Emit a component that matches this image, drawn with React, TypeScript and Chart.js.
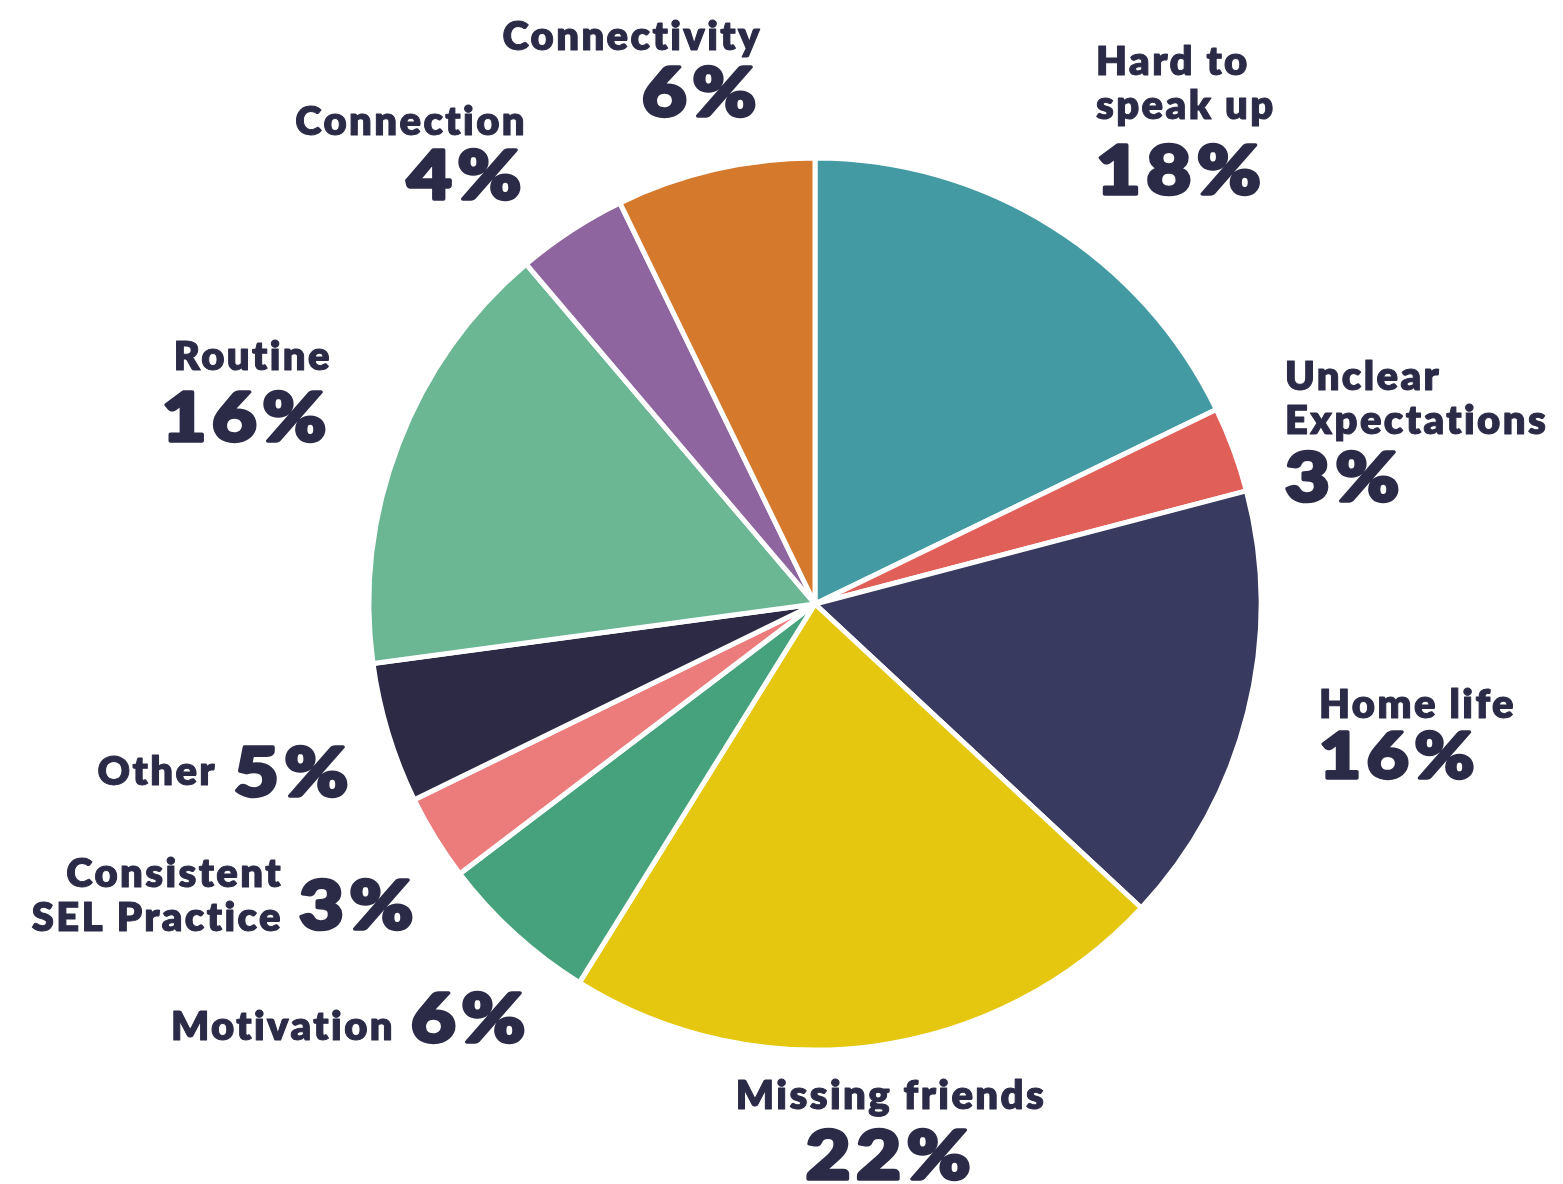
import React, { useEffect, useRef } from "react";
import { Chart, registerables } from "chart.js";

Chart.register(...registerables);

// ---- data ----
const categories = [
  "Hard to speak up",
  "Unclear Expectations",
  "Home life",
  "Missing friends",
  "Motivation",
  "Consistent SEL Practice",
  "Other",
  "Routine",
  "Connection",
  "Connectivity",
];
const values = [17.8, 3.1, 16.0, 21.9, 5.8, 3.1, 5.1, 15.9, 4.0, 7.2];
const percentLabels = ["18%", "3%", "16%", "22%", "6%", "3%", "5%", "16%", "4%", "6%"];
const nameLines = [
  ["Hard to", "speak up"],
  ["Unclear", "Expectations"],
  ["Home life"],
  ["Missing friends"],
  ["Motivation"],
  ["Consistent", "SEL Practice"],
  ["Other"],
  ["Routine"],
  ["Connection"],
  ["Connectivity"],
];
const sliceColors = [
  "#439AA3",
  "#E15F59",
  "#393A5F",
  "#E6C70F",
  "#46A27D",
  "#EC7B7B",
  "#2C2A45",
  "#6BB693",
  "#8E659E",
  "#D5792D",
];

// ---- label layout (style, relative to pie centre) ----
type Layout = {
  mode: "stack" | "inline";
  align: CanvasTextAlign;
  dx: number;
  dy: number;
  pctDx?: number;
  pctDy: number;
  pctScale?: number;
};
const labelLayout: Layout[] = [
  { mode: "stack", align: "left", dx: 281, dy: -529, pctDy: -410 },
  { mode: "stack", align: "left", dx: 470, dy: -214, pctDy: -103 },
  { mode: "stack", align: "left", dx: 504, dy: 114, pctDy: 174, pctScale: 0.94 },
  { mode: "stack", align: "center", dx: 76, dy: 505, pctDy: 575 },
  { mode: "inline", align: "right", dx: -420, dy: 436, pctDx: -404, pctDy: 438 },
  { mode: "inline", align: "right", dx: -532, dy: 283, pctDx: -516, pctDy: 325 },
  { mode: "inline", align: "right", dx: -598, dy: 181, pctDx: -581, pctDy: 192 },
  { mode: "stack", align: "right", dx: -483, dy: -234, pctDy: -163 },
  { mode: "stack", align: "right", dx: -288, dy: -469, pctDy: -405 },
  { mode: "stack", align: "right", dx: -53, dy: -554, pctDy: -488 },
];

const TEXT_COLOR = "#2B2A47";
const NAME_FONT = "800 40px Lato";
const NAME_SPACING = "2.4px";
const NAME_STROKE = 1;
const LINE_GAP = 44;
const PCT_SIZE = 67;
const PCT_STRETCH = 1.15;

function hasFont(family: string) {
  const c = document.createElement("canvas").getContext("2d")!;
  const sample = "1234567890% Hgw";
  c.font = `100px monospace`;
  const a = c.measureText(sample).width;
  c.font = `100px "${family}", monospace`;
  const b = c.measureText(sample).width;
  return Math.abs(a - b) > 0.5;
}

const labelPlugin = {
  id: "sliceLabels",
  afterDraw(chart: any) {
    const meta = chart.getDatasetMeta(0);
    if (!meta.data.length) return;
    const cx = meta.data[0].x;
    const cy = meta.data[0].y;
    const ctx: CanvasRenderingContext2D = chart.ctx;
    const black = hasFont("Lato Black");
    const pctFamily = black ? `"Lato Black", Lato` : "Lato";
    const pctStroke = black ? 3.5 : 5.5;
    ctx.save();
    ctx.fillStyle = TEXT_COLOR;
    ctx.strokeStyle = TEXT_COLOR;
    ctx.lineJoin = "round";
    ctx.textBaseline = "alphabetic";
    labelLayout.forEach((l, i) => {
      const lines = nameLines[i];
      ctx.font = NAME_FONT;
      (ctx as any).letterSpacing = NAME_SPACING;
      ctx.lineWidth = NAME_STROKE;
      ctx.textAlign = l.align;
      lines.forEach((t, k) => {
        const x = cx + l.dx;
        const y = cy + l.dy + k * LINE_GAP;
        ctx.fillText(t, x, y);
        ctx.strokeText(t, x, y);
      });
      const sc = l.pctScale ?? 1;
      const size = PCT_SIZE * sc;
      ctx.font = `900 ${size}px ${pctFamily}`;
      (ctx as any).letterSpacing = `${Math.round(size * 0.08)}px`;
      ctx.lineWidth = pctStroke * sc;
      let x: number;
      if (l.mode === "inline") {
        ctx.textAlign = "left";
        x = cx + (l.pctDx ?? l.dx);
      } else {
        ctx.textAlign = l.align;
        x = cx + l.dx;
      }
      const y = cy + l.pctDy;
      ctx.save();
      ctx.translate(x, y);
      ctx.scale(PCT_STRETCH, 1);
      ctx.fillText(percentLabels[i], 0, 0);
      ctx.strokeText(percentLabels[i], 0, 0);
      ctx.restore();
    });
    ctx.restore();
  },
};

export default function App() {
  const ref = useRef<HTMLCanvasElement>(null);
  useEffect(() => {
    document.body.style.margin = "0";
    document.body.style.overflow = "hidden";
    if (!ref.current) return;
    const chart = new Chart(ref.current, {
      type: "pie",
      data: {
        labels: categories,
        datasets: [
          {
            data: values,
            backgroundColor: sliceColors,
            borderColor: "#FFFFFF",
            borderWidth: 5,
          },
        ],
      },
      options: {
        animation: false,
        responsive: false,
        radius: 446,
        layout: { padding: { left: 67, top: 24, right: 0, bottom: 0 } },
        plugins: { legend: { display: false }, tooltip: { enabled: false } },
      } as any,
      plugins: [labelPlugin],
    });
    return () => chart.destroy();
  }, []);
  return (
    <div style={{ width: 1563, height: 1184, background: "#FFFFFF" }}>
      <canvas ref={ref} width={1563} height={1184} style={{ display: "block" }} />
    </div>
  );
}
